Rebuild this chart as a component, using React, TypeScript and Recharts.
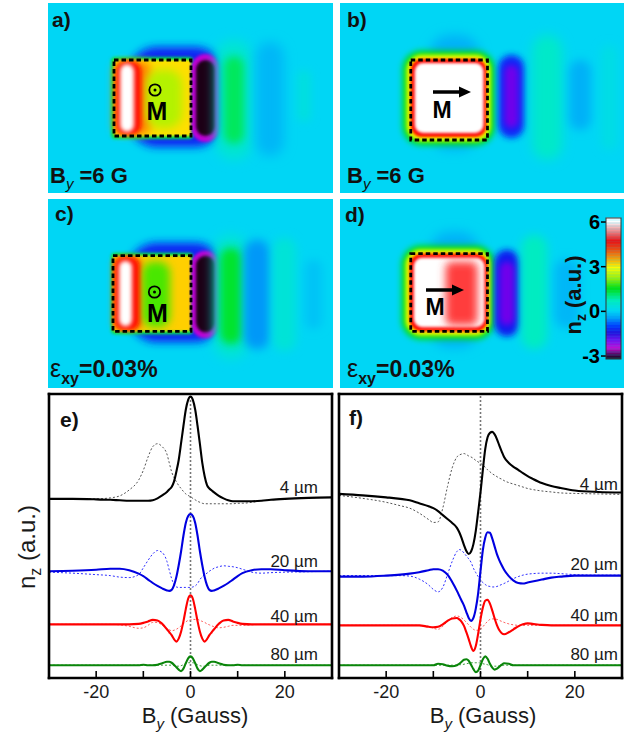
import React from 'react';
import { ComposedChart, LineChart, BarChart, Bar, Cell, Line, XAxis, YAxis, ReferenceArea, ReferenceLine } from 'recharts';

const FONT = '"Liberation Sans", Arial, Helvetica, sans-serif';

// ---------- profile data (B_y in Gauss) ----------
const byGauss = [-30, -25, -20, -17, -15, -13, -11, -10, -9, -8, -7, -6, -5, -4.5, -4, -3.5, -3, -2.5, -2, -1.5, -1, -0.5, 0, 0.5, 1, 1.5, 2, 2.5, 3, 3.5, 4, 4.5, 5, 6, 7, 8, 9, 10, 11, 13, 15, 17, 20, 25, 30];

const e4Solid = [2.87, 2.87, 2.86, 2.85, 2.84, 2.83, 2.83, 2.83, 2.83, 2.84, 2.88, 2.94, 3.01, 3.06, 3.11, 3.22, 3.42, 3.66, 4.0, 4.35, 4.68, 4.88, 4.95, 4.88, 4.68, 4.35, 3.98, 3.6, 3.33, 3.15, 3.08, 3.04, 3.0, 2.93, 2.88, 2.84, 2.82, 2.82, 2.82, 2.82, 2.83, 2.85, 2.87, 2.89, 2.9];
const e4Dotted = [2.87, 2.87, 2.87, 2.89, 2.93, 3.05, 3.25, 3.45, 3.72, 3.93, 3.99, 3.93, 3.78, 3.6, 3.42, 3.3, 3.22, 3.14, 3.08, 3.02, 2.97, 2.94, 2.91, 2.88, 2.85, 2.82, 2.8, 2.78, 2.77, 2.77, 2.77, 2.77, 2.77, 2.77, 2.77, 2.77, 2.77, 2.78, 2.78, 2.8, 2.83, 2.85, 2.87, 2.89, 2.9];
const e20Solid = [1.4, 1.41, 1.43, 1.45, 1.45, 1.42, 1.35, 1.3, 1.23, 1.16, 1.1, 1.05, 1.01, 1.0, 1.02, 1.11, 1.28, 1.52, 1.8, 2.12, 2.38, 2.52, 2.56, 2.52, 2.38, 2.12, 1.8, 1.52, 1.28, 1.11, 1.02, 1.0, 1.01, 1.05, 1.1, 1.16, 1.23, 1.3, 1.36, 1.42, 1.44, 1.44, 1.42, 1.4, 1.4];
const e20Dotted = [1.38, 1.36, 1.33, 1.31, 1.28, 1.27, 1.33, 1.47, 1.62, 1.75, 1.82, 1.78, 1.6, 1.42, 1.25, 1.13, 1.08, 1.07, 1.07, 1.07, 1.07, 1.07, 1.07, 1.08, 1.1, 1.15, 1.23, 1.29, 1.33, 1.36, 1.4, 1.43, 1.46, 1.49, 1.51, 1.5, 1.49, 1.47, 1.44, 1.38, 1.36, 1.37, 1.38, 1.39, 1.4];
const e40Solid = [0.32, 0.32, 0.32, 0.32, 0.32, 0.32, 0.33, 0.35, 0.38, 0.41, 0.4, 0.33, 0.22, 0.16, 0.1, 0.02, -0.03, 0.03, 0.17, 0.38, 0.63, 0.84, 0.91, 0.84, 0.63, 0.38, 0.17, 0.03, -0.03, 0.02, 0.1, 0.16, 0.22, 0.33, 0.4, 0.41, 0.38, 0.35, 0.33, 0.32, 0.32, 0.32, 0.32, 0.32, 0.32];
const e40Dotted = [0.32, 0.32, 0.32, 0.32, 0.31, 0.28, 0.24, 0.25, 0.3, 0.36, 0.36, 0.3, 0.24, 0.21, 0.19, 0.2, 0.22, 0.25, 0.29, 0.33, 0.37, 0.4, 0.41, 0.42, 0.42, 0.42, 0.4, 0.38, 0.36, 0.33, 0.31, 0.29, 0.27, 0.25, 0.26, 0.28, 0.3, 0.3, 0.3, 0.31, 0.32, 0.32, 0.32, 0.32, 0.32];
const e80Solid = [-0.51, -0.51, -0.51, -0.51, -0.51, -0.51, -0.51, -0.5, -0.51, -0.51, -0.5, -0.47, -0.44, -0.44, -0.46, -0.5, -0.55, -0.6, -0.63, -0.58, -0.47, -0.37, -0.33, -0.37, -0.47, -0.58, -0.63, -0.6, -0.55, -0.5, -0.46, -0.44, -0.44, -0.47, -0.5, -0.51, -0.51, -0.5, -0.51, -0.51, -0.51, -0.51, -0.51, -0.51, -0.51];
const e80Dotted = [-0.51, -0.51, -0.51, -0.51, -0.51, -0.51, -0.51, -0.51, -0.51, -0.51, -0.51, -0.51, -0.51, -0.51, -0.51, -0.52, -0.53, -0.53, -0.52, -0.5, -0.48, -0.46, -0.46, -0.46, -0.48, -0.5, -0.52, -0.53, -0.53, -0.52, -0.51, -0.51, -0.51, -0.51, -0.51, -0.51, -0.51, -0.51, -0.51, -0.51, -0.51, -0.51, -0.51, -0.51, -0.51];

const f4Solid = [2.97, 2.94, 2.9, 2.87, 2.84, 2.78, 2.72, 2.68, 2.62, 2.54, 2.46, 2.38, 2.28, 2.19, 2.07, 1.93, 1.81, 1.75, 1.8, 1.95, 2.22, 2.6, 3.0, 3.46, 3.88, 4.12, 4.21, 4.23, 4.18, 4.08, 3.95, 3.83, 3.72, 3.6, 3.52, 3.46, 3.39, 3.33, 3.28, 3.19, 3.13, 3.09, 3.04, 3.01, 3.0];
const f4Dotted = [2.94, 2.88, 2.8, 2.73, 2.68, 2.58, 2.45, 2.39, 2.4, 2.68, 3.12, 3.5, 3.72, 3.76, 3.78, 3.79, 3.77, 3.74, 3.72, 3.69, 3.65, 3.62, 3.59, 3.56, 3.51, 3.46, 3.42, 3.38, 3.35, 3.32, 3.29, 3.27, 3.24, 3.2, 3.17, 3.14, 3.11, 3.08, 3.06, 3.03, 3.01, 2.99, 2.98, 2.97, 2.96];
const f20Solid = [1.29, 1.29, 1.31, 1.33, 1.35, 1.38, 1.42, 1.44, 1.44, 1.41, 1.33, 1.18, 1.0, 0.9, 0.8, 0.7, 0.57, 0.45, 0.39, 0.45, 0.64, 0.95, 1.4, 1.83, 2.08, 2.19, 2.18, 2.06, 1.9, 1.74, 1.62, 1.52, 1.43, 1.3, 1.21, 1.16, 1.15, 1.17, 1.19, 1.23, 1.27, 1.29, 1.31, 1.31, 1.31];
const f20Dotted = [1.31, 1.31, 1.31, 1.31, 1.3, 1.24, 1.12, 1.03, 0.98, 1.07, 1.33, 1.6, 1.8, 1.84, 1.82, 1.77, 1.71, 1.65, 1.58, 1.46, 1.37, 1.29, 1.22, 1.17, 1.13, 1.1, 1.09, 1.08, 1.08, 1.09, 1.11, 1.13, 1.15, 1.2, 1.25, 1.29, 1.32, 1.34, 1.35, 1.36, 1.36, 1.35, 1.33, 1.32, 1.32];
const f40Solid = [0.3, 0.3, 0.3, 0.3, 0.3, 0.3, 0.27, 0.26, 0.27, 0.32, 0.39, 0.44, 0.45, 0.42, 0.37, 0.29, 0.16, 0.02, -0.13, -0.22, -0.12, 0.13, 0.42, 0.66, 0.8, 0.82, 0.74, 0.6, 0.44, 0.3, 0.2, 0.14, 0.12, 0.16, 0.22, 0.28, 0.32, 0.34, 0.33, 0.31, 0.3, 0.3, 0.3, 0.3, 0.3];
const f40Dotted = [0.3, 0.3, 0.3, 0.3, 0.3, 0.3, 0.28, 0.24, 0.22, 0.28, 0.38, 0.46, 0.49, 0.48, 0.45, 0.41, 0.36, 0.31, 0.26, 0.22, 0.2, 0.2, 0.22, 0.27, 0.33, 0.38, 0.42, 0.43, 0.43, 0.42, 0.4, 0.38, 0.36, 0.33, 0.31, 0.3, 0.3, 0.3, 0.3, 0.3, 0.3, 0.3, 0.3, 0.3, 0.3];
const f80Solid = [-0.51, -0.51, -0.51, -0.51, -0.51, -0.51, -0.51, -0.51, -0.48, -0.49, -0.52, -0.53, -0.51, -0.48, -0.44, -0.4, -0.39, -0.42, -0.5, -0.59, -0.65, -0.62, -0.51, -0.39, -0.33, -0.38, -0.48, -0.56, -0.6, -0.58, -0.54, -0.5, -0.47, -0.48, -0.51, -0.51, -0.51, -0.51, -0.51, -0.51, -0.51, -0.51, -0.51, -0.51, -0.51];
const f80Dotted = [-0.51, -0.51, -0.51, -0.51, -0.51, -0.51, -0.51, -0.51, -0.51, -0.51, -0.51, -0.51, -0.51, -0.5, -0.5, -0.49, -0.48, -0.47, -0.46, -0.46, -0.46, -0.46, -0.47, -0.48, -0.49, -0.5, -0.52, -0.53, -0.53, -0.53, -0.52, -0.52, -0.51, -0.51, -0.51, -0.51, -0.51, -0.51, -0.51, -0.51, -0.51, -0.51, -0.51, -0.51, -0.51];

const xTicks = [-20, -10, 0, 10, 20];
const xTickLabels: Record<string, string> = { '-20': '-20', '0': '0', '20': '20' };
const yTicks = [0, 1, 2, 3, 4];
const thicknessLabels = ['4 \u00b5m', '20 \u00b5m', '40 \u00b5m', '80 \u00b5m'];

// ---------- colour map of n_z (a.u.) ----------
const cmapStops: [number, string][] = [
  [-3.2, '#1c0018'], [-3.0, '#3a0040'], [-2.5, '#d000d0'], [-2.0, '#8000f0'], [-1.5, '#2a00d8'],
  [-1.0, '#0030ff'], [-0.5, '#0098f8'], [0, '#00d6f5'], [0.7, '#00f0b8'], [1.5, '#00e000'],
  [2.2, '#a8f000'], [2.9, '#ffff00'], [3.5, '#ffa000'], [4.1, '#ff4400'], [4.7, '#ff0000'],
  [5.4, '#ff8c8c'], [6.0, '#ffffff'], [6.3, '#ffffff'],
];
const cbarTicks = [-3, 0, 3, 6];
const cbarMin = -3.2;
const cbarMax = 6.27;

function hex(h: string) {
  return [parseInt(h.slice(1, 3), 16), parseInt(h.slice(3, 5), 16), parseInt(h.slice(5, 7), 16)];
}
function cmap(v: number): string {
  const s = cmapStops;
  if (v <= s[0][0]) return s[0][1];
  for (let i = 1; i < s.length; i++) {
    if (v <= s[i][0]) {
      const t = (v - s[i - 1][0]) / (s[i][0] - s[i - 1][0]);
      const a = hex(s[i - 1][1]);
      const b = hex(s[i][1]);
      const c = a.map((q, k) => Math.round(q + (b[k] - q) * t));
      return `rgb(${c[0]},${c[1]},${c[2]})`;
    }
  }
  return s[s.length - 1][1];
}

// ---------- simulated maps: regions (x,y in map units, v = n_z) ----------
type Blob = { x1: number; x2: number; y1: number; y2: number; v: number; s: number; r: number };
const mapA: Blob[] = [
  { x1: 32, x2: 70.4, y1: 17.6, y2: 57.6, v: -1.15, s: 4, r: 0.3 },
  { x1: 25.2, x2: 58, y1: 21.6, y2: 54.4, v: 1.2, s: 1.5, r: 0.05 },
  { x1: 26.4, x2: 57.2, y1: 22.8, y2: 53.2, v: 3.1, s: 1, r: 0.03 },
  { x1: 26.4, x2: 41, y1: 23.5, y2: 52.5, v: 3.7, s: 4, r: 0.2 },
  { x1: 39.2, x2: 53.6, y1: 26.8, y2: 50, v: 2.3, s: 5, r: 0.4 },
  { x1: 27.2, x2: 37.2, y1: 23.2, y2: 52.8, v: 4.6, s: 2, r: 0.4 },
  { x1: 28.8, x2: 34.4, y1: 24.4, y2: 51.6, v: 6, s: 2, r: 0.5 },
  { x1: 57.2, x2: 68.8, y1: 20.4, y2: 55.6, v: -2.4, s: 1.5, r: 0.5 },
  { x1: 59.2, x2: 66.8, y1: 22.8, y2: 53.2, v: -3.2, s: 1.5, r: 0.5 },
  { x1: 67.2, x2: 81.6, y1: 14.8, y2: 62.8, v: 0.4, s: 6, r: 0.5 },
  { x1: 70.4, x2: 78.4, y1: 21.2, y2: 56.4, v: 1.1, s: 4, r: 0.5 },
  { x1: 83.2, x2: 94.4, y1: 15.6, y2: 61.2, v: -0.25, s: 6, r: 0.5 },
  { x1: 99.6, x2: 105.2, y1: 26.8, y2: 47.6, v: 0.25, s: 4, r: 0.5 },
];
const mapB: Blob[] = [
  { x1: 36, x2: 56, y1: 12.8, y2: 58.8, v: -0.3, s: 6, r: 0.4 },
  { x1: 25.2, x2: 62, y1: 19.2, y2: 56.8, v: 1.5, s: 3, r: 0.2 },
  { x1: 26.8, x2: 60.4, y1: 20.8, y2: 55.2, v: 2.9, s: 2, r: 0.18 },
  { x1: 28.4, x2: 58.8, y1: 22.4, y2: 53.6, v: 4.7, s: 1.5, r: 0.15 },
  { x1: 30, x2: 57.6, y1: 24, y2: 52, v: 6, s: 1.5, r: 0.12 },
  { x1: 63.6, x2: 74, y1: 20.8, y2: 54, v: -1.1, s: 3, r: 0.5 },
  { x1: 66, x2: 71.6, y1: 24.8, y2: 50, v: -1.9, s: 3, r: 0.5 },
  { x1: 77.2, x2: 89.2, y1: 12.8, y2: 62.8, v: 0.5, s: 6, r: 0.5 },
  { x1: 92, x2: 100.8, y1: 22.8, y2: 50.8, v: -0.3, s: 5, r: 0.5 },
  { x1: 104.8, x2: 111.2, y1: 16.8, y2: 58.8, v: 0.2, s: 5, r: 0.5 },
];
const mapC: Blob[] = [
  { x1: 32, x2: 70.4, y1: 17.6, y2: 57.6, v: -1.15, s: 4, r: 0.3 },
  { x1: 25.2, x2: 58, y1: 21.6, y2: 54.4, v: 1.2, s: 1.5, r: 0.05 },
  { x1: 26, x2: 57.2, y1: 22.8, y2: 53.2, v: 3.2, s: 1, r: 0.03 },
  { x1: 26, x2: 37.6, y1: 23.5, y2: 52.5, v: 3.9, s: 3, r: 0.2 },
  { x1: 37.6, x2: 48.8, y1: 25.2, y2: 51.6, v: 1.8, s: 4, r: 0.4 },
  { x1: 26.8, x2: 36.4, y1: 23.2, y2: 52.8, v: 4.6, s: 2, r: 0.4 },
  { x1: 28.4, x2: 33.6, y1: 24.8, y2: 51.2, v: 6, s: 2, r: 0.5 },
  { x1: 57.2, x2: 68.8, y1: 20.8, y2: 56, v: -2.4, s: 1.5, r: 0.5 },
  { x1: 59.2, x2: 66.8, y1: 22.8, y2: 53.6, v: -3.2, s: 1.5, r: 0.5 },
  { x1: 66.4, x2: 80, y1: 14.4, y2: 64.4, v: 0.4, s: 6, r: 0.5 },
  { x1: 68.8, x2: 77.6, y1: 19.6, y2: 58.4, v: 1.3, s: 4, r: 0.5 },
  { x1: 78.4, x2: 88.8, y1: 16.4, y2: 60.4, v: -0.5, s: 5, r: 0.5 },
  { x1: 90, x2: 99.2, y1: 15.6, y2: 61.2, v: 0.35, s: 5, r: 0.5 },
  { x1: 102.8, x2: 109.6, y1: 24.4, y2: 52.4, v: -0.15, s: 5, r: 0.5 },
];
const mapD: Blob[] = [
  { x1: 36, x2: 56, y1: 13.2, y2: 59.6, v: -0.3, s: 6, r: 0.4 },
  { x1: 24.8, x2: 62, y1: 18.8, y2: 56.4, v: 1.5, s: 3, r: 0.2 },
  { x1: 26.4, x2: 60.4, y1: 20.4, y2: 54.8, v: 2.9, s: 2, r: 0.18 },
  { x1: 28, x2: 59.2, y1: 22, y2: 53.2, v: 4.7, s: 1.5, r: 0.15 },
  { x1: 29.6, x2: 58, y1: 23.6, y2: 51.6, v: 6, s: 1.5, r: 0.12 },
  { x1: 42.4, x2: 55.2, y1: 25.2, y2: 50.8, v: 5.0, s: 4, r: 0.2 },
  { x1: 62, x2: 72, y1: 20.4, y2: 55.2, v: -1.2, s: 3, r: 0.5 },
  { x1: 64, x2: 70, y1: 25.2, y2: 50.8, v: -1.9, s: 3, r: 0.5 },
  { x1: 72.8, x2: 83.2, y1: 14.4, y2: 60.4, v: 0.6, s: 5, r: 0.5 },
  { x1: 86, x2: 96, y1: 24, y2: 52, v: -0.25, s: 5, r: 0.5 },
];
const magnetA = { x1: 26.4, x2: 57.2, y1: 22.8, y2: 53.2 };
const magnetB = { x1: 28.4, x2: 59.2, y1: 22.8, y2: 54.8 };
const magnetC = { x1: 26, x2: 57.2, y1: 22.8, y2: 53.2 };
const magnetD = { x1: 28.4, x2: 59.2, y1: 22, y2: 53.2 };

const blurLevels = [10, 15, 20, 30, 40, 50, 60];

const MapPanel = ({ blobs, magnet, left, top, width, height }: any) => (
  <div style={{ position: 'absolute', left, top }}>
    <ComposedChart width={width} height={height} margin={{ top: 0, right: 0, bottom: 0, left: 0 }} data={[]}>
      <XAxis type="number" dataKey="x" domain={[0, 114]} allowDataOverflow hide />
      <YAxis type="number" domain={[0, 76]} reversed allowDataOverflow hide />
      <ReferenceArea x1={0} x2={114} y1={0} y2={76} fill={cmap(0)} fillOpacity={1} stroke="none" />
      {blobs.map((b: Blob, i: number) => (
        <ReferenceArea
          key={i}
          x1={b.x1}
          x2={b.x2}
          y1={b.y1}
          y2={b.y2}
          shape={(p: any) => {
            const rx = Math.min(p.width, p.height) * b.r;
            return (
              <rect x={p.x} y={p.y} width={p.width} height={p.height} rx={rx} ry={rx} fill={cmap(b.v)}
                filter={`url(#blur${Math.round(b.s * 10)})`} />
            );
          }}
        />
      ))}
      <ReferenceArea
        x1={magnet.x1}
        x2={magnet.x2}
        y1={magnet.y1}
        y2={magnet.y2}
        shape={(p: any) => (
          <rect x={p.x} y={p.y} width={p.width} height={p.height} fill="none" stroke="#000" strokeWidth={2.8} strokeDasharray="4.5 3" />
        )}
      />
    </ComposedChart>
  </div>
);

const cbarSteps = 95;
const cbarStep = (cbarMax - cbarMin) / cbarSteps;
const cbarRows = Array.from({ length: cbarSteps }, (_, i) => ({ k: i, w: 1, v: cbarMax - (i + 0.5) * cbarStep }));

const ColorBar = () => (
  <>
    <div style={{ position: 'absolute', left: 570, top: 206 }}>
      <BarChart layout="vertical" width={52} height={166} data={cbarRows} margin={{ top: 12, right: 1, bottom: 13, left: 36 }}
        barCategoryGap={0} barGap={0}>
        <XAxis type="number" domain={[0, 1]} allowDataOverflow hide />
        <YAxis type="category" dataKey="k" hide />
        <Bar dataKey="w" isAnimationActive={false}>
          {cbarRows.map((r) => (
            <Cell key={r.k} fill={cmap(r.v)} stroke={cmap(r.v)} strokeWidth={0.6} />
          ))}
        </Bar>
      </BarChart>
    </div>
    <div style={{ position: 'absolute', left: 566, top: 206 }}>
      <ComposedChart width={56} height={166} margin={{ top: 12, right: 1, bottom: 13, left: 0 }} data={[]}>
        <XAxis type="number" domain={[0, 1]} allowDataOverflow hide />
        <YAxis type="number" domain={[cbarMin, cbarMax]} ticks={cbarTicks} interval={0} allowDataOverflow width={40}
          axisLine={false} tickLine={{ stroke: '#000', strokeWidth: 1.5 }} tickSize={5} tickMargin={1}
          tick={{ fontSize: 20, fontWeight: 'bold', fill: '#000', fontFamily: FONT }} />
      </ComposedChart>
    </div>
  </>
);

// ---------- profile panels ----------
type Series = { key: string; color: string; w: number; dash?: string };
const seriesStyle: Series[] = [
  { key: 'd4', color: '#555', w: 1, dash: '2 2' },
  { key: 'd20', color: '#3030ff', w: 1, dash: '2 2' },
  { key: 'd40', color: '#ff5a5a', w: 1, dash: '2 2' },
  { key: 'd80', color: '#3a9a3a', w: 1, dash: '2 2' },
  { key: 's4', color: '#000', w: 2.1 },
  { key: 's20', color: '#0000e0', w: 2.1 },
  { key: 's40', color: '#ff0000', w: 2.1 },
  { key: 's80', color: '#0a850a', w: 2.1 },
];

const rowsE = byGauss.map((x, i) => ({
  x, s4: e4Solid[i], d4: e4Dotted[i], s20: e20Solid[i], d20: e20Dotted[i],
  s40: e40Solid[i], d40: e40Dotted[i], s80: e80Solid[i], d80: e80Dotted[i],
}));
const rowsF = byGauss.map((x, i) => ({
  x, s4: f4Solid[i], d4: f4Dotted[i], s20: f20Solid[i], d20: f20Dotted[i],
  s40: f40Solid[i], d40: f40Dotted[i], s80: f80Solid[i], d80: f80Dotted[i],
}));

const axisLineStyle = { stroke: '#000', strokeWidth: 2.6, strokeLinecap: 'square' as const };
const tickLineStyle = { stroke: '#000', strokeWidth: 1.6 };

const ProfilePanel = ({ rows, left, width, yw }: any) => (
  <div style={{ position: 'absolute', left, top: 384 }}>
    <LineChart width={width} height={351} data={rows} margin={{ top: 0, right: 0, bottom: 0, left: 0 }}>
      <XAxis xAxisId="b" dataKey="x" type="number" domain={[-30, 30]} ticks={xTicks} interval={0} allowDataOverflow height={57}
        axisLine={axisLineStyle} tickLine={tickLineStyle} tickSize={-7} tickMargin={14}
        tickFormatter={(v: number) => xTickLabels[String(v)] ?? ''}
        tick={{ fontSize: 18, fill: '#1a1a1a', fontFamily: FONT }} />
      <XAxis xAxisId="t" orientation="top" dataKey="x" type="number" domain={[-30, 30]} ticks={xTicks} interval={0} allowDataOverflow height={10}
        axisLine={axisLineStyle} tickLine={tickLineStyle} tickSize={-7} tick={false} />
      <YAxis yAxisId="l" type="number" domain={[-0.77, 5]} ticks={yTicks} interval={0} allowDataOverflow width={yw}
        axisLine={axisLineStyle} tickLine={tickLineStyle} tickSize={-7} tick={false} />
      <YAxis yAxisId="r" orientation="right" type="number" domain={[-0.77, 5]} ticks={yTicks} interval={0} allowDataOverflow width={8}
        axisLine={axisLineStyle} tickLine={tickLineStyle} tickSize={-7} tick={false} />
      <ReferenceLine xAxisId="b" yAxisId="l" x={0} stroke="#777" strokeWidth={1.6} strokeDasharray="2 2" />
      {seriesStyle.map((s) => (
        <Line key={s.key} xAxisId="b" yAxisId="l" type="monotone" dataKey={s.key} stroke={s.color} strokeWidth={s.w}
          strokeDasharray={s.dash} dot={false} activeDot={false} isAnimationActive={false} />
      ))}
    </LineChart>
  </div>
);

const Odot = ({ x, y }: any) => (
  <g>
    <circle cx={x} cy={y} r={5.7} fill="none" stroke="#000" strokeWidth={1.8} />
    <circle cx={x} cy={y} r={1.5} fill="#000" />
  </g>
);
const Arrow = ({ x1, x2, y }: any) => (
  <g>
    <line x1={x1} y1={y} x2={x2 - 10} y2={y} stroke="#000" strokeWidth={3.5} />
    <polygon points={`${x2 - 12},${y - 5.5} ${x2},${y} ${x2 - 12},${y + 5.5}`} fill="#000" />
  </g>
);
const ByLabel = ({ x, y }: any) => (
  <text x={x} y={y} fontSize={22} fontWeight="bold" fill="#111">
    B<tspan fontSize={15} fontStyle="italic" fontWeight="normal" dy={6}>y</tspan>
    <tspan dy={-6}> =6 G</tspan>
  </text>
);
const EpsLabel = ({ x, y }: any) => (
  <text x={x} y={y} fill="#111">
    <tspan fontSize={25}>{'\u03b5'}</tspan>
    <tspan fontSize={16} fontWeight="bold" dy={7}>xy</tspan>
    <tspan fontSize={23} fontWeight="bold" dy={-7}>=0.03%</tspan>
  </text>
);

export default function App() {
  return (
    <div style={{ position: 'absolute', left: 0, top: 0, width: 636, height: 735, background: '#fff', fontFamily: FONT, overflow: 'hidden' }}>
      <svg width={0} height={0} style={{ position: 'absolute' }}>
        <defs>
          {blurLevels.map((b) => (
            <filter key={b} id={`blur${b}`} filterUnits="userSpaceOnUse" x={-200} y={-200} width={800} height={600}>
              <feGaussianBlur stdDeviation={b / 10} />
            </filter>
          ))}
        </defs>
      </svg>

      <MapPanel blobs={mapA} magnet={magnetA} left={48} top={3} width={285} height={190} />
      <MapPanel blobs={mapB} magnet={magnetB} left={340} top={3} width={284} height={190} />
      <MapPanel blobs={mapC} magnet={magnetC} left={48} top={199} width={285} height={189} />
      <MapPanel blobs={mapD} magnet={magnetD} left={340} top={199} width={284} height={189} />
      <ColorBar />

      <ProfilePanel rows={rowsE} left={0} width={340} yw={49} />
      <ProfilePanel rows={rowsF} left={325} width={305} yw={14} />

      <svg width={636} height={735} style={{ position: 'absolute', left: 0, top: 0, pointerEvents: 'none' }} fontFamily={FONT}>
        {/* map annotations */}
        <text x={52} y={27} fontSize={21} fontWeight="bold" fill="#111">a)</text>
        <text x={347} y={27} fontSize={21} fontWeight="bold" fill="#111">b)</text>
        <text x={55} y={221} fontSize={21} fontWeight="bold" fill="#111">c)</text>
        <text x={345} y={222} fontSize={21} fontWeight="bold" fill="#111">d)</text>
        <ByLabel x={50} y={183} />
        <ByLabel x={347} y={183} />
        <EpsLabel x={50} y={377} />
        <EpsLabel x={347} y={377} />
        <Odot x={155} y={90} />
        <Odot x={154.5} y={292} />
        <text x={157} y={120} fontSize={25} fontWeight="bold" textAnchor="middle" fill="#000">M</text>
        <text x={157.5} y={322} fontSize={25} fontWeight="bold" textAnchor="middle" fill="#000">M</text>
        <Arrow x1={433} x2={471} y={92} />
        <text x={442} y={118} fontSize={23} fontWeight="bold" textAnchor="middle" fill="#000">M</text>
        <Arrow x1={426} x2={464} y={290} />
        <text x={435} y={315} fontSize={23} fontWeight="bold" textAnchor="middle" fill="#000">M</text>
        <rect x={606} y={218} width={15} height={141} fill="none" stroke="#333" strokeWidth={1} />
        <text x={581} y={295} fontSize={22} fontWeight="bold" textAnchor="middle" fill="#111" transform="rotate(-90 581 295)">
          n<tspan fontSize={14} dy={5}>z</tspan><tspan dy={-5}> (a.u.)</tspan>
        </text>

        {/* profile annotations */}
        <text x={60} y={427} fontSize={21} fontWeight="bold" fill="#111">e)</text>
        <text x={349} y={425} fontSize={21} fontWeight="bold" fill="#111">f)</text>
        <text x={35} y={547} fontSize={24} textAnchor="middle" fill="#1a1a1a" transform="rotate(-90 35 547)">
          n<tspan fontSize={16} dy={6}>z</tspan><tspan dy={-6}> (a.u.)</tspan>
        </text>
        <text x={195} y={723} fontSize={22} textAnchor="middle" fill="#1a1a1a">
          B<tspan fontSize={15} fontStyle="italic" dy={6}>y</tspan><tspan dy={-6}> (Gauss)</tspan>
        </text>
        <text x={483} y={723} fontSize={22} textAnchor="middle" fill="#1a1a1a">
          B<tspan fontSize={15} fontStyle="italic" dy={6}>y</tspan><tspan dy={-6}> (Gauss)</tspan>
        </text>
        <g fontSize={17} fill="#1a1a1a" textAnchor="end">
          <text x={318} y={493}>{thicknessLabels[0]}</text>
          <text x={318} y={567}>{thicknessLabels[1]}</text>
          <text x={318} y={622}>{thicknessLabels[2]}</text>
          <text x={318} y={660}>{thicknessLabels[3]}</text>
          <text x={618} y={490}>{thicknessLabels[0]}</text>
          <text x={618} y={570}>{thicknessLabels[1]}</text>
          <text x={618} y={621}>{thicknessLabels[2]}</text>
          <text x={618} y={660}>{thicknessLabels[3]}</text>
        </g>
      </svg>
    </div>
  );
}
